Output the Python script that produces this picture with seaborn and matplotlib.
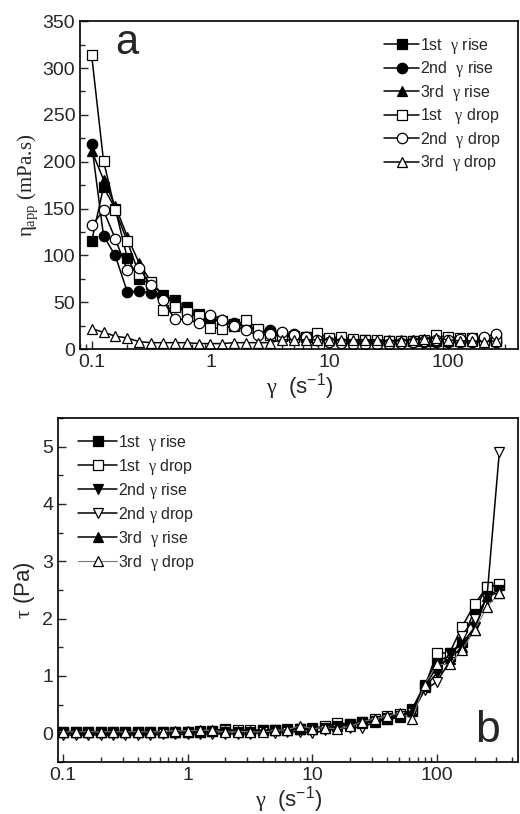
import numpy as np
import pandas as pd
import matplotlib
matplotlib.use("Agg")
import matplotlib.pyplot as plt
import matplotlib.ticker as mticker
import seaborn as sns

# ---------------- data ----------------
# panel a: apparent viscosity (mPa.s) vs shear rate (1/s)
shear_a = [0.1, 0.126, 0.158, 0.2, 0.251, 0.316, 0.398, 0.501, 0.631, 0.794,
           1.0, 1.26, 1.58, 2.0, 2.51, 3.16, 3.98, 5.01, 6.31, 7.94,
           10.0, 12.6, 15.8, 20.0, 25.1, 31.6, 39.8, 50.1, 63.1, 79.4,
           100.0, 126.0, 158.0, 200.0, 251.0]
visc_rise1 = [115, 173, 150, 97, 75, 70, 58, 52, 45, 38, 33, 30, 27, 25, 20, 17, 15, 14, 13, 12,
              11, 10, 10, 10, 9, 9, 9, 9, 9, 9, 9, 9, 10, 10, 10]
visc_rise2 = [219, 121, 100, 61, 62, 60, 57, 48, 40, 35, 32, 31, 28, 24, 20, 20, 17, 16, 13, 11,
              9, 8, 8, 8, 8, 8, 8, 8, 8, 8, 8, 8, 8, 8, 8]
visc_rise3 = [212, 181, 153, 120, 92, 72, 58, 50, 42, 36, 32, 30, 28, 25, 20, 16, 15, 14, 13, 12,
              11, 11, 10, 10, 10, 10, 10, 10, 10, 11, 11, 11, 11, 11, 11]
visc_drop1 = [314, 201, 148, 115, 80, 72, 42, 45, 40, 35, 23, 22, 25, 31, 22, 15, 14, 13, 13, 17,
              12, 13, 11, 10, 10, 9, 9, 9, 10, 15, 13, 12, 12, 10, 9]
visc_drop2 = [132, 148, 118, 84, 87, 68, 52, 32, 32, 28, 37, 31, 25, 20, 15, 16, 18, 15, 13, 10,
              8, 7, 6, 6, 6, 6, 7, 8, 9, 10, 10, 11, 12, 13, 16]
visc_drop3 = [22, 18, 14, 12, 8, 7, 7, 7, 7, 6, 6, 6, 7, 7, 7, 7, 10, 10, 10, 10,
              10, 10, 10, 10, 10, 9, 9, 10, 11, 12, 10, 9, 9, 8, 9]

# panel b: shear stress (Pa) vs shear rate (1/s)
shear_b = shear_a + [316.0]
tau_rise1 = [0.02, 0.02, 0.02, 0.02, 0.02, 0.02, 0.02, 0.02, 0.02, 0.03, 0.03, 0.03, 0.04, 0.08,
             0.03, 0.03, 0.05, 0.05, 0.06, 0.07, 0.08, 0.10, 0.13, 0.17, 0.20, 0.22, 0.25, 0.30,
             0.42, 0.85, 1.25, 1.35, 1.60, 2.15, 2.55, 2.58]
tau_drop1 = [0.03, 0.03, 0.03, 0.03, 0.03, 0.03, 0.03, 0.03, 0.03, 0.03, 0.03, 0.04, 0.04, 0.05,
             0.05, 0.05, 0.06, 0.06, 0.07, 0.08, 0.09, 0.12, 0.18, 0.16, 0.20, 0.25, 0.30, 0.33,
             0.40, 0.80, 1.40, 1.40, 1.85, 2.25, 2.55, 2.60]
tau_rise2 = [0.0, 0.0, 0.0, 0.0, 0.0, 0.0, 0.0, 0.0, 0.01, 0.01, 0.01, 0.02, 0.02, 0.03,
             0.03, 0.03, 0.04, 0.05, 0.06, 0.07, 0.08, 0.10, 0.12, 0.15, 0.18, 0.22, 0.26, 0.30,
             0.40, 0.80, 1.05, 1.40, 1.55, 1.85, 2.40, 2.50]
tau_drop2 = [-0.03, -0.03, -0.03, -0.03, -0.03, -0.03, -0.03, -0.03, -0.02, -0.02, -0.02, -0.02,
             -0.01, -0.01, -0.01, -0.02, 0.02, 0.01, 0.02, 0.03, 0.0, 0.05, 0.08, 0.10, 0.10,
             0.20, 0.25, 0.30, 0.35, 0.75, 0.90, 1.25, 1.70, 2.00, 2.35, 4.90]
tau_rise3 = [0.02, 0.02, 0.02, 0.02, 0.02, 0.02, 0.02, 0.02, 0.02, 0.03, 0.03, 0.03, 0.04, 0.04,
             0.04, 0.04, 0.05, 0.05, 0.06, 0.07, 0.08, 0.10, 0.12, 0.15, 0.18, 0.20, 0.24, 0.28,
             0.38, 0.82, 1.15, 1.30, 1.50, 1.80, 2.40, 2.45]
tau_drop3 = [0.03, 0.02, 0.03, 0.02, 0.03, 0.02, 0.03, 0.02, 0.03, 0.04, 0.04, 0.05, 0.05, 0.02,
             0.03, 0.03, 0.02, 0.05, 0.06, 0.13, 0.08, 0.10, 0.07, 0.12, 0.20, 0.25, 0.30, 0.35,
             0.25, 0.85, 1.20, 1.20, 1.45, 1.80, 2.20, 2.45]

legend_a = ["1st  $\\gamma$ rise", "2nd  $\\gamma$ rise", "3rd  $\\gamma$ rise",
            "1st   $\\gamma$ drop", "2nd  $\\gamma$ drop", "3rd  $\\gamma$ drop"]
legend_b = ["1st  $\\gamma$ rise", "1st  $\\gamma$ drop", "2nd $\\gamma$ rise",
            "2nd $\\gamma$ drop", "3rd  $\\gamma$ rise", "3rd  $\\gamma$ drop"]
xtick_vals = [0.1, 1, 10, 100]
xtick_labels = ["0.1", "1", "10", "100"]

# ---------------- style ----------------
sns.set_style("ticks")
plt.rcParams["font.family"] = ["Liberation Sans", "DejaVu Sans"]
plt.rcParams["mathtext.fontset"] = "custom"
plt.rcParams["mathtext.rm"] = "Liberation Serif"
plt.rcParams["mathtext.it"] = "Liberation Serif"
plt.rcParams["mathtext.bf"] = "Liberation Serif:bold"
plt.rcParams["mathtext.sf"] = "Liberation Sans"
plt.rcParams["axes.linewidth"] = 1.2

fig = plt.figure(figsize=(5.2, 8.14), dpi=100)
ax1 = fig.add_axes([0.154, 0.571, 0.843, 0.403])
ax2 = fig.add_axes([0.1115, 0.064, 0.8855, 0.4225])

for ax in (ax1, ax2):
    ax.set_xscale("log")


def draw(ax, x, y, marker, filled, label, lw=1.1, lc="black"):
    df = pd.DataFrame({"x": x, "y": y})
    sns.lineplot(data=df, x="x", y="y", ax=ax, sort=False, estimator=None,
                 color=lc, lw=lw, marker=marker, markersize=7.5,
                 markerfacecolor="black" if filled else "white",
                 markeredgecolor="black", markeredgewidth=0.9,
                 label=label, legend=False)


# panel a
series_a = [(visc_rise1, "s", True), (visc_rise2, "o", True), (visc_rise3, "^", True),
            (visc_drop1, "s", False), (visc_drop2, "o", False), (visc_drop3, "^", False)]
for (vals, m, f), lab in zip(series_a, legend_a):
    draw(ax1, shear_a, vals, m, f, lab)

# panel b
series_b = [(tau_rise1, "s", True, "black", 1.1), (tau_drop1, "s", False, "black", 1.1),
            (tau_rise2, "v", True, "black", 1.1), (tau_drop2, "v", False, "black", 1.1),
            (tau_rise3, "^", True, "black", 1.1), (tau_drop3, "^", False, "#777777", 0.8)]
for (vals, m, f, c, w), lab in zip(series_b, legend_b):
    draw(ax2, shear_b, vals, m, f, lab, lw=w, lc=c)

# axes
ax1.set_xlim(0.08, 390)
ax1.set_ylim(0, 350)
ax1.yaxis.set_major_locator(mticker.MultipleLocator(50))
ax1.yaxis.set_minor_locator(mticker.MultipleLocator(25))

ax2.set_xlim(0.091, 450)
ax2.set_ylim(-0.5, 5.5)
ax2.yaxis.set_major_locator(mticker.MultipleLocator(1))
ax2.yaxis.set_minor_locator(mticker.MultipleLocator(0.5))

for ax in (ax1, ax2):
    ax.xaxis.set_major_locator(mticker.FixedLocator(xtick_vals))
    ax.xaxis.set_major_formatter(mticker.FixedFormatter(xtick_labels))
    ax.xaxis.set_minor_locator(mticker.LogLocator(base=10, subs=np.arange(2, 10), numticks=20))
    ax.xaxis.set_minor_formatter(mticker.NullFormatter())
    ax.tick_params(which="both", direction="in", top=False, right=False,
                   labelsize=14, width=1.0)
    ax.tick_params(which="major", length=6)
    ax.tick_params(which="minor", length=3.5)
    for s in ax.spines.values():
        s.set_visible(True)
        s.set_linewidth(1.2)
        s.set_color("black")
    ax.set_xlabel("$\\gamma$  ($\\mathsf{s^{-1}}$)", fontsize=16, labelpad=0)

ax1.set_ylabel("$\\eta_{\\mathrm{app}}$ (mPa.s)", fontsize=15, labelpad=2,
               family=["Liberation Serif", "DejaVu Serif"])
ax2.set_ylabel("$\\tau$ (Pa)", fontsize=16, labelpad=4)

ax1.text(0.08, 0.90, "a", transform=ax1.transAxes, fontsize=30, va="baseline")
ax2.text(0.905, 0.058, "b", transform=ax2.transAxes, fontsize=32, va="baseline")

ax1.legend(loc="upper right", bbox_to_anchor=(0.985, 0.99), frameon=False,
           fontsize=11.5, handlelength=2.2, handletextpad=0.05, labelspacing=0.22,
           borderpad=0.2, numpoints=1)
ax2.legend(loc="upper left", bbox_to_anchor=(0.02, 0.99), frameon=False,
           fontsize=11.5, handlelength=2.4, handletextpad=0.05, labelspacing=0.25,
           borderpad=0.2, numpoints=1)

fig.savefig("out.png", dpi=100)
